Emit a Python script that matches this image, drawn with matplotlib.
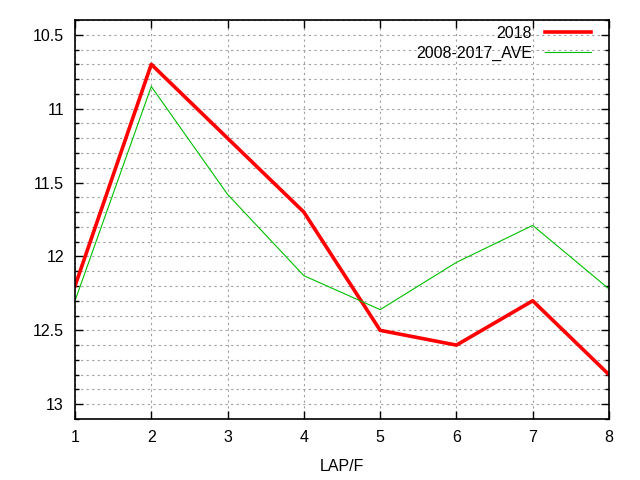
import matplotlib
matplotlib.use('Agg')
import matplotlib.pyplot as plt
from matplotlib.ticker import MultipleLocator

laps = [1, 2, 3, 4, 5, 6, 7, 8]
y2018 = [12.2, 10.7, 11.2, 11.7, 12.5, 12.6, 12.3, 12.8]
yave = [12.30, 10.85, 11.58, 12.13, 12.36, 12.04, 11.79, 12.22]

plt.rcParams['font.family'] = ['Liberation Sans', 'DejaVu Sans']

fig = plt.figure(figsize=(6.4, 4.8), dpi=100)
ax = fig.add_axes([75/640, 1-419/480, (609-75)/640, (419-20)/480])

ax.plot(laps, y2018, color='#ff0000', linewidth=2.6, label='2018')
ax.plot(laps, yave, color='#00c000', linewidth=0.8, label='2008-2017_AVE')

ax.set_xlim(1, 8)
ax.set_ylim(13.1, 10.4)
ax.xaxis.set_major_locator(MultipleLocator(1))
ax.yaxis.set_minor_locator(MultipleLocator(0.1))
ax.set_yticks([10.5, 11, 11.5, 12, 12.5, 13])
ax.set_yticklabels(['10.5', '11', '11.5', '12', '12.5', '13'])

ax.grid(True, which='major', axis='x', color='#a0a0a0', linestyle=(0, (2, 3)), linewidth=0.8)
ax.grid(True, which='both', axis='y', color='#a0a0a0', linestyle=(0, (2, 3)), linewidth=0.8)
ax.tick_params(which='both', direction='in', top=True, right=True, labelsize=11.5, width=1)
ax.tick_params(which='major', length=6, pad=8)
ax.tick_params(which='minor', length=3)
for s in ax.spines.values():
    s.set_linewidth(1.2)

ax.set_xlabel('LAP/F', fontsize=11.5, labelpad=10)

leg = ax.legend(loc='upper right', bbox_to_anchor=(1 - 18/534, 1 - 6/399),
                frameon=False, fontsize=11.5, markerfirst=False,
                handlelength=2.9, handletextpad=0.8, borderpad=0, borderaxespad=0,
                labelspacing=0.3)
for t in leg.get_texts():
    t.set_ha('right')

fig.savefig('out.png', dpi=100)
